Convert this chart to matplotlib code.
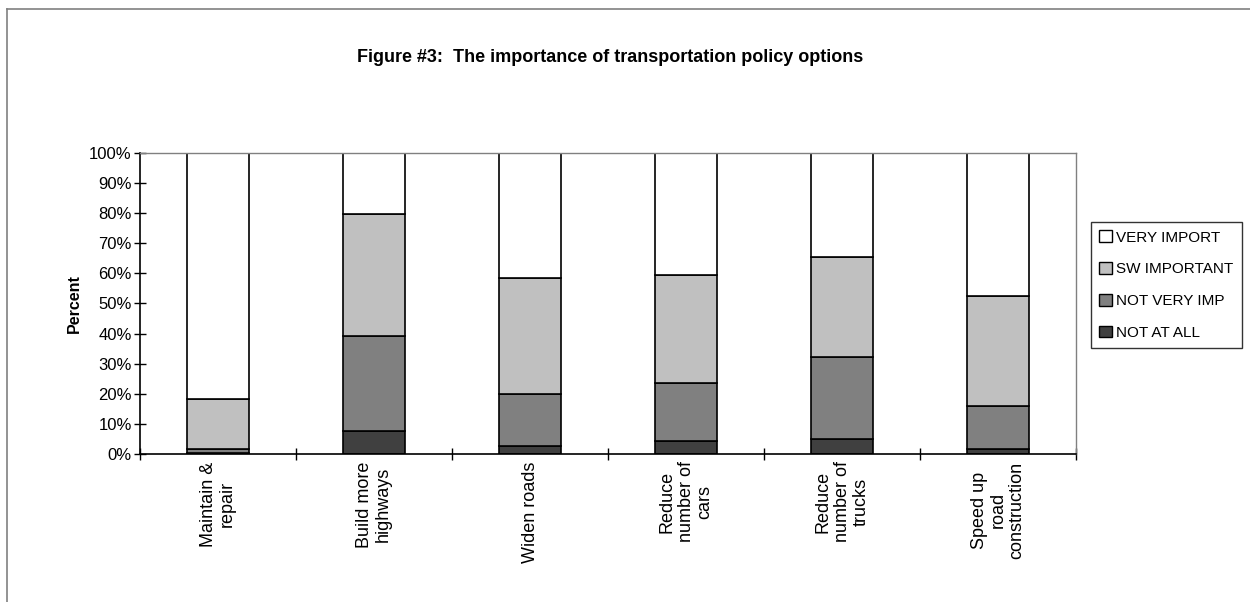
import numpy as np
import matplotlib
matplotlib.use("Agg")
import matplotlib.pyplot as plt
from matplotlib.lines import Line2D
from matplotlib.patches import Patch

plt.rcParams['font.family'] = ['Liberation Sans', 'DejaVu Sans']

# data (percent of respondents)
categories = ["Maintain &\nrepair", "Build more\nhighways", "Widen roads",
              "Reduce\nnumber of\ncars", "Reduce\nnumber of\ntrucks",
              "Speed up\nroad\nconstruction"]
not_at_all = [0.2, 7.7, 2.7, 4.2, 5.0, 1.5]
not_very = [1.3, 31.6, 17.2, 19.4, 27.2, 14.3]
sw_important = [16.7, 40.3, 38.6, 36.0, 33.2, 36.7]
very_import = [81.8, 20.4, 41.5, 40.4, 34.6, 47.5]

series = [("NOT AT ALL", not_at_all, "#404040"),
          ("NOT VERY IMP", not_very, "#808080"),
          ("SW IMPORTANT", sw_important, "#c0c0c0"),
          ("VERY IMPORT", very_import, "#ffffff")]

fig = plt.figure(figsize=(12.5, 6.02), dpi=100)
ax = fig.add_axes([0.112, 0.246, 0.749, 0.5])

x = np.arange(len(categories))
bottom = np.zeros(len(categories))
for name, vals, col in series:
    ax.bar(x, vals, bottom=bottom, width=0.4, color=col, edgecolor="black",
           linewidth=1.2, label=name)
    bottom += np.array(vals)

ax.set_xlim(-0.5, len(categories) - 0.5)
ax.set_ylim(0, 100)
ax.set_yticks(np.arange(0, 101, 10))
ax.set_yticklabels([f"{v}%" for v in range(0, 101, 10)], fontsize=12)
ax.set_xticks(np.arange(len(categories) + 1) - 0.5)
ax.set_xticklabels([])
ax.tick_params(axis="both", direction="inout", length=8, width=1, color="black")
ax.tick_params(axis="y", pad=2)

# category labels, rotated and hanging below the axis
for i, lab in enumerate(categories):
    ax.text(i, -2.5, lab, rotation=90, ha="center", va="top",
            multialignment="center", fontsize=13, linespacing=1.15)

for s in ["left", "bottom"]:
    ax.spines[s].set_color("black")
    ax.spines[s].set_linewidth(1.2)
for s in ["top", "right"]:
    ax.spines[s].set_color("#808080")
    ax.spines[s].set_linewidth(1.0)

ax.set_ylabel("Percent", fontsize=11.5, fontweight="bold")
ax.yaxis.set_label_coords(-0.062, 0.5)

fig.text(0.488, 0.904, "Figure #3:  The importance of transportation policy options",
         ha="center", va="center", fontsize=13, fontweight="bold")

handles = [Patch(facecolor=col, edgecolor="black", label=name)
           for name, vals, col in reversed(series)]
leg = fig.legend(handles=handles, loc="upper left",
                 bbox_to_anchor=(1091 / 1250, 1 - 222 / 602),
                 fontsize=11, frameon=True, fancybox=False,
                 handlelength=0.8, handleheight=0.8, handletextpad=0.3,
                 labelspacing=1.15, borderpad=0.55, borderaxespad=0)
leg.get_frame().set_edgecolor("black")
leg.get_frame().set_linewidth(1.0)

# outer chart frame (cropped: only top and left visible)
fig.add_artist(Line2D([7 / 1250, 1.0], [1 - 9 / 602, 1 - 9 / 602],
                      transform=fig.transFigure, color="#808080", lw=1.2))
fig.add_artist(Line2D([7 / 1250, 7 / 1250], [0, 1 - 9 / 602],
                      transform=fig.transFigure, color="#808080", lw=1.2))

fig.savefig("out.png", dpi=100)
